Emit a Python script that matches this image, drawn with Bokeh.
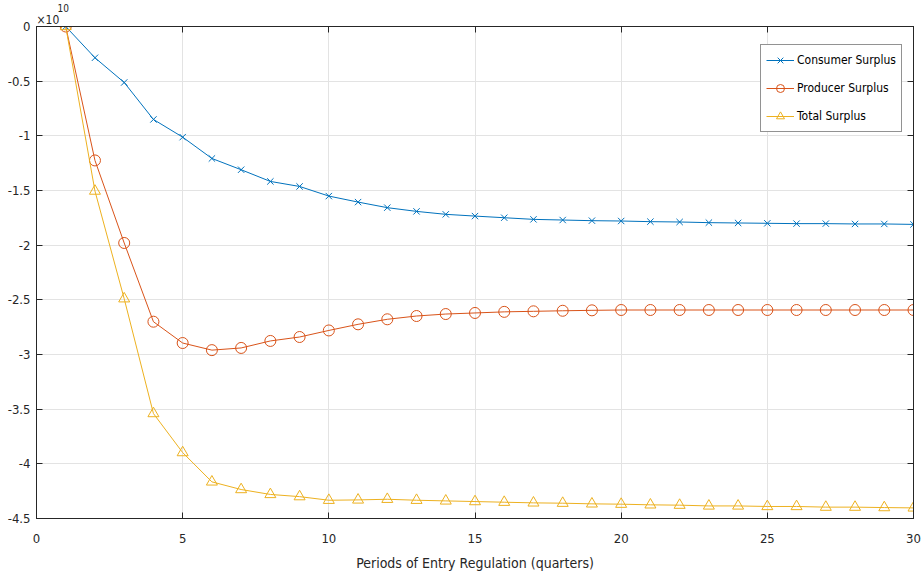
from bokeh.plotting import figure
from bokeh.models import (Range1d, FixedTicker, LinearAxis, Legend, LegendItem, Title)
from bokeh.embed import file_html
from bokeh.resources import INLINE

# Values in units of 1e10
periods = list(range(1, 31))
consumer_surplus = [0.0, -0.286, -0.512, -0.85, -1.012, -1.207, -1.31, -1.417, -1.463, -1.551,
                    -1.606, -1.657, -1.691, -1.718, -1.734, -1.749, -1.764, -1.770, -1.776, -1.779,
                    -1.785, -1.788, -1.794, -1.797, -1.800, -1.803, -1.803, -1.806, -1.806, -1.810]
producer_surplus = [0.0, -1.225, -1.98, -2.70, -2.895, -2.96, -2.94, -2.876, -2.84, -2.78,
                    -2.724, -2.678, -2.648, -2.630, -2.620, -2.610, -2.605, -2.600, -2.596, -2.593,
                    -2.593, -2.593, -2.593, -2.593, -2.593, -2.593, -2.593, -2.593, -2.593, -2.593]
total_surplus = [0.0, -1.505, -2.49, -3.54, -3.897, -4.165, -4.235, -4.28, -4.30, -4.333,
                 -4.330, -4.324, -4.333, -4.339, -4.345, -4.351, -4.357, -4.360, -4.366, -4.369,
                 -4.375, -4.378, -4.385, -4.385, -4.390, -4.390, -4.396, -4.396, -4.400, -4.403]

x_ticks = [0, 5, 10, 15, 20, 25, 30]
y_ticks = [0, -0.5, -1, -1.5, -2, -2.5, -3, -3.5, -4, -4.5]
y_tick_labels = ["0", "-0.5", "-1", "-1.5", "-2", "-2.5", "-3", "-3.5", "-4", "-4.5"]
series_names = ["Consumer Surplus", "Producer Surplus", "Total Surplus"]
colors = ["#0072BD", "#D95319", "#EDB120"]
x_label = "Periods of Entry Regulation (quarters)"
scale_base = "×10"
scale_exp = "10"

FONT = "DejaVu Sans Condensed"
AX = "#262626"

p = figure(width=924, height=579, output_backend="svg", toolbar_location=None,
           title_location=None,
           x_range=Range1d(0, 30), y_range=Range1d(-4.5, 0),
           min_border_left=36, min_border_right=11, min_border_top=26, min_border_bottom=61)
p.background_fill_color = "white"
p.border_fill_color = "white"
p.outline_line_color = AX
p.outline_line_width = 1

for ax in (p.xaxis[0], p.yaxis[0]):
    ax.major_tick_in = 6
    ax.major_tick_out = 0
    ax.minor_tick_in = 0
    ax.minor_tick_out = 0
    ax.axis_line_color = AX
    ax.major_tick_line_color = AX
    ax.major_label_text_font = FONT
    ax.major_label_text_font_size = "13px"
    ax.major_label_text_color = AX

p.xaxis[0].ticker = FixedTicker(ticks=x_ticks)
p.yaxis[0].ticker = FixedTicker(ticks=y_ticks)
p.yaxis[0].major_label_overrides = {t: l for t, l in zip(y_ticks, y_tick_labels)}
p.xaxis[0].major_label_overrides = {t: str(t) for t in x_ticks}
p.xaxis[0].axis_label = x_label
p.xaxis[0].axis_label_text_font = FONT
p.xaxis[0].axis_label_text_font_size = "14px"
p.xaxis[0].axis_label_text_font_style = "normal"
p.xaxis[0].axis_label_text_color = AX
p.xaxis[0].axis_label_standoff = 9
p.xaxis[0].major_label_standoff = 15
p.yaxis[0].major_label_standoff = 6

top = LinearAxis(ticker=FixedTicker(ticks=x_ticks), major_tick_in=6, major_tick_out=0,
                 minor_tick_in=0, minor_tick_out=0, major_label_standoff=0,
                 major_label_overrides={t: "" for t in x_ticks},
                 axis_line_color=AX, major_tick_line_color=AX)
right = LinearAxis(ticker=FixedTicker(ticks=y_ticks), major_tick_in=6, major_tick_out=0,
                   minor_tick_in=0, minor_tick_out=0, major_label_standoff=0,
                   major_label_overrides={t: "" for t in y_ticks},
                   axis_line_color=AX, major_tick_line_color=AX)
p.add_layout(top, "above")
p.add_layout(right, "right")

# scale factor "×10^10" above the y axis (later titles sit further from the frame)
p.add_layout(Title(text=scale_base, align="left", offset=0, standoff=0,
                   text_font=FONT, text_font_size="12px", text_font_style="normal",
                   text_color=AX), "above")
p.add_layout(Title(text=scale_exp, align="left", offset=21, standoff=-2,
                   text_font=FONT, text_font_size="10px", text_font_style="normal",
                   text_color=AX), "above")

p.xgrid.ticker = FixedTicker(ticks=x_ticks)
p.ygrid.ticker = FixedTicker(ticks=y_ticks)
p.grid.grid_line_color = "#e3e3e3"
p.grid.grid_line_width = 1

items = []
data = [consumer_surplus, producer_surplus, total_surplus]
for i, (name, ys, c) in enumerate(zip(series_names, data, colors)):
    ln = p.line(periods, ys, line_color=c, line_width=1)
    if i == 0:
        mk = p.scatter(periods, ys, marker="x", size=9, line_color=c, line_width=1)
    elif i == 1:
        mk = p.scatter(periods, ys, marker="circle", size=11, line_color=c, fill_color=None, line_width=1)
    else:
        mk = p.scatter(periods, ys, marker="triangle", size=11, line_color=c, fill_color=None, line_width=1)
    items.append(LegendItem(label=name, renderers=[ln, mk]))

legend = Legend(items=items, location=(724, 386), glyph_width=28, glyph_height=20,
                label_height=20, spacing=8, padding=5, margin=0, label_standoff=3,
                label_text_font=FONT, label_text_font_size="12px", label_text_color="black",
                border_line_color=AX, border_line_width=1, background_fill_alpha=1.0)
p.add_layout(legend, "center")

open("out.html", "w").write(file_html(p, INLINE))
